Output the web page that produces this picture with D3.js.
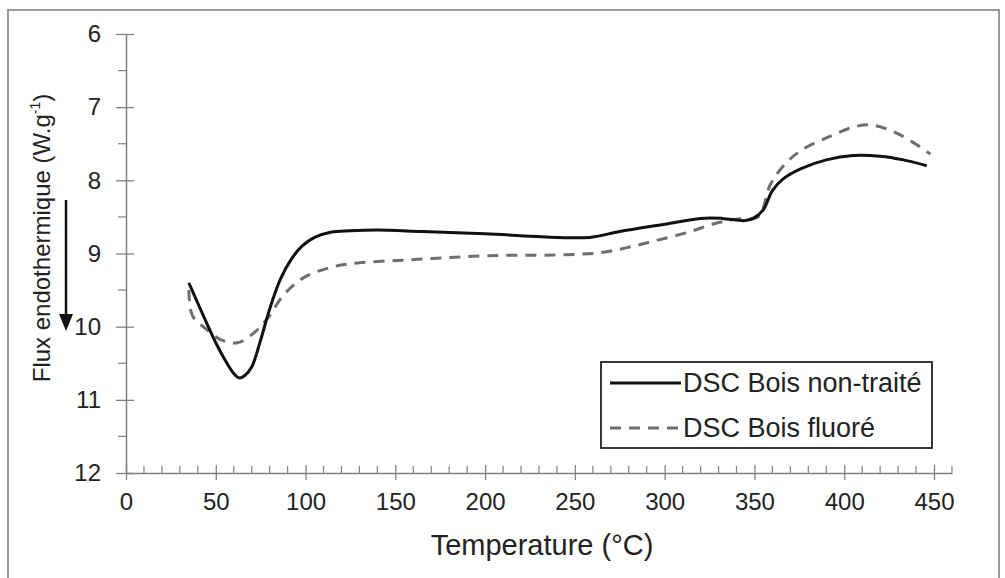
<!DOCTYPE html>
<html><head><meta charset="utf-8">
<script src="https://cdn.jsdelivr.net/npm/d3@7"></script>
<style>
html,body{margin:0;padding:0;background:#fff;}
text{font-family:Arial,"Liberation Sans",sans-serif;fill:#222;}
</style></head>
<body>
<svg id="chart" width="1005" height="578"></svg>
<script>
// Data
const seriesNames = ["DSC Bois non-traité", "DSC Bois fluoré"];
const tempNonTraite = [35,40,44,50,55,60,63,66,70,75,80,86,92,98,105,114,125,140,165,200,240,258,275,300,320,332,345,350,355,360,366,376,390,405,420,433,446];
const fluxNonTraite = [9.40,9.68,9.90,10.22,10.45,10.64,10.70,10.67,10.55,10.18,9.76,9.35,9.08,8.90,8.78,8.71,8.69,8.68,8.70,8.73,8.78,8.78,8.70,8.60,8.52,8.52,8.55,8.51,8.40,8.14,7.98,7.84,7.72,7.66,7.67,7.72,7.80];
const tempFluore = [35,37,44,53,62,71,79,88,99,114,129,155,170,201,238,264,279,294,313,328,340,352,359,367,376,391,407,417,432,448];
const fluxFluore = [9.50,9.85,10.02,10.18,10.22,10.09,9.88,9.56,9.33,9.19,9.13,9.09,9.07,9.03,9.02,8.99,8.92,8.83,8.71,8.59,8.53,8.50,8.05,7.78,7.59,7.41,7.26,7.25,7.39,7.64];
const xTicks = [0,50,100,150,200,250,300,350,400,450];
const yTicks = [6,7,8,9,10,11,12];
const xLabel = "Temperature (°C)";
const yLabelMain = "Flux endothermique (W.g";
const yLabelSup = "-1";
const yLabelEnd = ")";

const svg = d3.select("#chart");
// outer frame
svg.append("rect").attr("x",8).attr("y",10).attr("width",991).attr("height",600)
  .attr("fill","none").attr("stroke","#9a9a9a").attr("stroke-width",2);

const x = d3.scaleLinear().domain([0,460]).range([126, 126 + 460*(808/450)]);
const y = d3.scaleLinear().domain([6,12]).range([34,473]);

const axisColor = "#808080";
// minor ticks x
const xMinor = d3.range(10,461,10).filter(v=>v%50!==0);
svg.append("g").selectAll("line").data(xMinor).join("line")
  .attr("x1",d=>x(d)).attr("x2",d=>x(d)).attr("y1",y(12)-7).attr("y2",y(12))
  .attr("stroke",axisColor).attr("stroke-width",1.2);
// minor ticks y
const yMinor = d3.range(6.5,12,1);
svg.append("g").selectAll("line").data(yMinor).join("line")
  .attr("x1",x(0)-8).attr("x2",x(0)).attr("y1",d=>y(d)).attr("y2",d=>y(d))
  .attr("stroke",axisColor).attr("stroke-width",1.2);

// x axis
const gx = svg.append("g").attr("transform",`translate(0,${y(12)})`)
  .call(d3.axisBottom(x).tickValues(xTicks).tickFormat(d3.format("d")).tickSize(7).tickPadding(13).tickSizeOuter(0));
gx.select(".domain").attr("stroke",axisColor).attr("stroke-width",1.5);
gx.selectAll(".tick line").attr("stroke",axisColor).attr("stroke-width",1.3).attr("y1",-8).attr("y2",7);
gx.selectAll(".tick text").attr("font-size",24).attr("fill","#222").attr("font-family","Arial,'Liberation Sans',sans-serif");

// y axis
const gy = svg.append("g").attr("transform",`translate(${x(0)},0)`)
  .call(d3.axisLeft(y).tickValues(yTicks).tickFormat(d3.format("d")).tickSize(10).tickPadding(15).tickSizeOuter(0));
gy.select(".domain").attr("stroke",axisColor).attr("stroke-width",1.5);
gy.selectAll(".tick line").attr("stroke",axisColor).attr("stroke-width",1.3).attr("x1",-10).attr("x2",8);
gy.selectAll(".tick text").attr("font-size",24).attr("fill","#222").attr("font-family","Arial,'Liberation Sans',sans-serif");

// lines
const line = d3.line().curve(d3.curveCatmullRom.alpha(0.5));
const ptsA = tempNonTraite.map((t,i)=>[x(t), y(fluxNonTraite[i])]);
const ptsB = tempFluore.map((t,i)=>[x(t), y(fluxFluore[i])]);
svg.append("path").attr("d",line(ptsB)).attr("fill","none").attr("stroke","#6e6e6e")
  .attr("stroke-width",3).attr("stroke-dasharray","11,8");
svg.append("path").attr("d",line(ptsA)).attr("fill","none").attr("stroke","#111")
  .attr("stroke-width",3);

// axis titles
svg.append("text").attr("x",542).attr("y",555).attr("text-anchor","middle")
  .attr("font-size",29).text(xLabel);
const yl = svg.append("text").attr("transform","translate(50,238) rotate(-90)")
  .attr("text-anchor","middle").attr("font-size",24);
yl.append("tspan").text(yLabelMain);
yl.append("tspan").attr("font-size",14).attr("dy",-10).text(yLabelSup);
yl.append("tspan").attr("dy",10).text(yLabelEnd);

// arrow
svg.append("line").attr("x1",66).attr("x2",66).attr("y1",200).attr("y2",318)
  .attr("stroke","#111").attr("stroke-width",2.5);
svg.append("path").attr("d","M59,314 L73,314 L66,331 Z").attr("fill","#111");

// legend
const lg = svg.append("g");
lg.append("rect").attr("x",601).attr("y",362).attr("width",331).attr("height",86)
  .attr("fill","#fff").attr("stroke","#222").attr("stroke-width",1.8);
const legItems = [
  {name:seriesNames[0], stroke:"#111", dash:null, yy:383},
  {name:seriesNames[1], stroke:"#6e6e6e", dash:"11,8", yy:428}
];
legItems.forEach(it=>{
  lg.append("line").attr("x1",610).attr("x2",681).attr("y1",it.yy).attr("y2",it.yy)
    .attr("stroke",it.stroke).attr("stroke-width",3).attr("stroke-dasharray",it.dash);
  lg.append("text").attr("x",683).attr("y",it.yy+9).attr("font-size",27).text(it.name);
});
</script>
</body></html>
